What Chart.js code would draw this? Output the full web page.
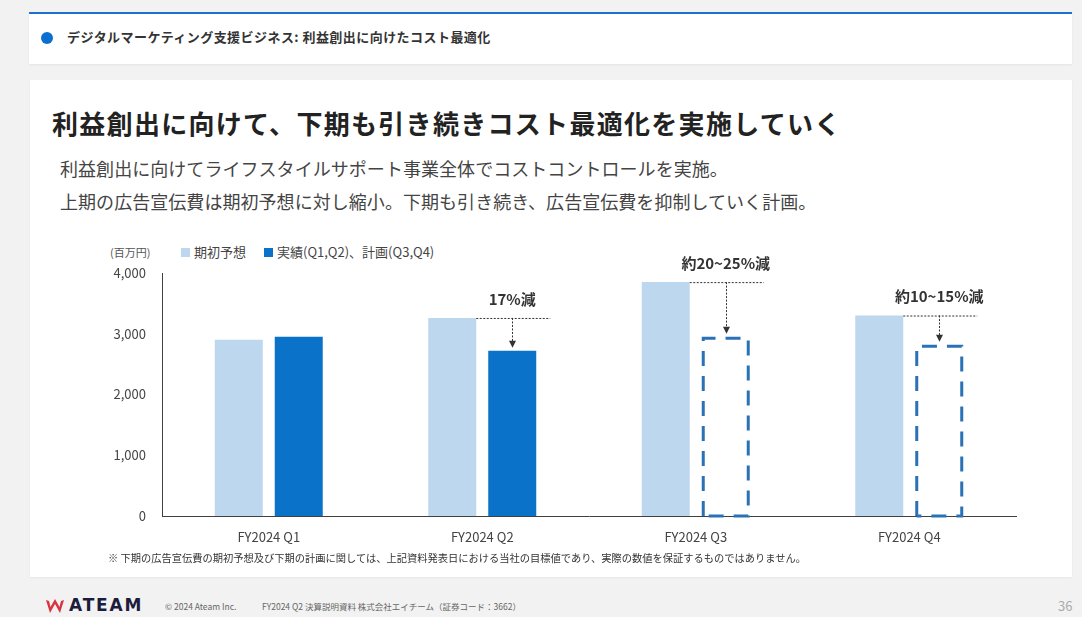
<!DOCTYPE html>
<html lang="ja">
<head>
<meta charset="utf-8">
<script src="https://cdn.jsdelivr.net/npm/chart.js@4.4.1/dist/chart.umd.min.js"></script>
<style>
  html,body{margin:0;padding:0;}
  body{width:1082px;height:617px;background:#f2f2f2;position:relative;overflow:hidden;
       font-family:"Noto Sans CJK JP","Noto Sans",sans-serif;color:#333;}
  .hdr{position:absolute;left:29px;top:12px;width:1043px;height:50px;background:#fff;
       border-top:2px solid #1a73c8;box-shadow:0 1px 2px rgba(0,0,0,0.06);}
  .hdr .dot{position:absolute;left:12px;top:18px;width:12px;height:12px;border-radius:50%;background:#0a6fd0;}
  .hdr .t{position:absolute;left:38px;top:13px;font-size:13px;font-weight:700;color:#333;letter-spacing:0.45px;}
  .card{position:absolute;left:30px;top:80px;width:1042px;height:497px;background:#fff;box-shadow:0 1px 2px rgba(0,0,0,0.05);}
  .title{position:absolute;left:52px;top:104px;font-size:26px;font-weight:700;color:#222;letter-spacing:1.3px;white-space:nowrap;}
  .sub{position:absolute;left:60px;font-size:18px;color:#444;white-space:nowrap;letter-spacing:0.05px;}
  .unit{position:absolute;left:110px;top:244px;font-size:11px;color:#555;}
  .leg{position:absolute;top:242px;font-size:13px;color:#444;white-space:nowrap;}
  .leg i{display:inline-block;width:9px;height:9px;margin-right:4px;vertical-align:0px;}
  canvas{position:absolute;left:90px;top:240px;}
  .note{position:absolute;left:108px;top:550px;font-size:10.25px;color:#333;white-space:nowrap;}
  .foot{position:absolute;top:600px;font-size:8.5px;color:#666;white-space:nowrap;}
  .logo{position:absolute;left:45px;top:596px;height:20px;}
  .logo span{position:absolute;left:24px;top:-1px;font-size:17px;font-weight:800;color:#1c1c3c;letter-spacing:1.8px;font-family:"DejaVu Sans","Noto Sans",sans-serif;}
  .pg{position:absolute;left:1058px;top:596px;font-size:13px;color:#aaa;}
</style>
</head>
<body>
<div class="hdr"><div class="dot"></div><div class="t">デジタルマーケティング支援ビジネス: 利益創出に向けたコスト最適化</div></div>
<div class="card"></div>
<div class="title">利益創出に向けて、下期も引き続きコスト最適化を実施していく</div>
<div class="sub" style="top:155px">利益創出に向けてライフスタイルサポート事業全体でコストコントロールを実施。</div>
<div class="sub" style="top:188px">上期の広告宣伝費は期初予想に対し縮小。下期も引き続き、広告宣伝費を抑制していく計画。</div>
<div class="unit">(百万円)</div>
<div class="leg" style="left:181px"><i style="background:#bdd7ee"></i>期初予想</div>
<div class="leg" style="left:264px"><i style="background:#0a72c9"></i>実績(Q1,Q2)、計画(Q3,Q4)</div>
<canvas id="c" width="950" height="320"></canvas>
<div class="note">※ 下期の広告宣伝費の期初予想及び下期の計画に関しては、上記資料発表日における当社の目標値であり、実際の数値を保証するものではありません。</div>
<div class="logo">
  <svg width="20" height="18" viewBox="0 0 20 18"><path d="M1 3 L5 16 L10 7 L15 16 L19 3 L16 4 L14.5 10 L10 2 L5.5 10 L4 4 Z" fill="#d9333f"/></svg>
  <span>ATEAM</span>
</div>
<div class="foot" style="left:165px">© 2024 Ateam Inc.</div>
<div class="foot" style="left:262px">FY2024 Q2 決算説明資料 株式会社エイチーム（証券コード：3662）</div>
<div class="pg">36</div>

<script>
const categories = ['FY2024 Q1', 'FY2024 Q2', 'FY2024 Q3', 'FY2024 Q4'];
const initialForecast = [2900, 3260, 3850, 3300];
const actualOrPlan = [2950, 2720, 2950, 2820];
const isPlan = [false, false, true, true];
const reductionLabels = [null, '17%減', '約20~25%減', '約10~15%減'];
const yTicks = [0, 1000, 2000, 3000, 4000];
const seriesNames = ['期初予想', '実績(Q1,Q2)、計画(Q3,Q4)'];

const LIGHT = '#bdd7ee', DARK = '#0a72c9', DASH = '#2a72b5';
const FONT = '"Noto Sans CJK JP","Noto Sans",sans-serif';

const overlay = {
  id: 'overlay',
  afterDatasetsDraw(chart) {
    const ctx = chart.ctx;
    const m0 = chart.getDatasetMeta(0), m1 = chart.getDatasetMeta(1);
    ctx.save();
    ctx.strokeStyle = DASH; ctx.lineWidth = 3; ctx.setLineDash([15, 10]);
    m1.data.forEach((b, i) => {
      if (!isPlan[i]) return;
      const l = b.x - b.width / 2 + 1.5, r = b.x + b.width / 2 - 1.5;
      ctx.beginPath();
      ctx.moveTo(l, b.base); ctx.lineTo(l, b.y + 1.5); ctx.lineTo(r, b.y + 1.5); ctx.lineTo(r, b.base); ctx.lineTo(l, b.base);
      ctx.stroke();
    });
    ctx.restore();
    m1.data.forEach((b, i) => {
      const lab = reductionLabels[i];
      if (!lab) return;
      const a = m0.data[i];
      const yTop = a.y;
      const ax = Math.round(b.x) + 0.5;
      ctx.save();
      ctx.strokeStyle = '#333'; ctx.lineWidth = 1; ctx.setLineDash([2, 1.5]);
      ctx.beginPath();
      ctx.moveTo(a.x + a.width / 2, yTop + 0.5);
      ctx.lineTo(b.x + b.width / 2 + 14, yTop + 0.5);
      ctx.stroke();
      const tip = b.y - 3;
      ctx.beginPath();
      ctx.moveTo(ax, yTop);
      ctx.lineTo(ax, tip - 6);
      ctx.stroke();
      ctx.setLineDash([]);
      ctx.fillStyle = '#333';
      ctx.beginPath();
      ctx.moveTo(ax - 3.5, tip - 7);
      ctx.lineTo(ax + 3.5, tip - 7);
      ctx.lineTo(ax, tip);
      ctx.closePath(); ctx.fill();
      ctx.font = 'bold 15px ' + FONT;
      ctx.textAlign = 'center'; ctx.textBaseline = 'middle';
      ctx.fillText(lab, b.x, yTop - 19);
      ctx.restore();
    });
  }
};

new Chart(document.getElementById('c'), {
  type: 'bar',
  data: {
    labels: categories,
    datasets: [
      { label: seriesNames[0], data: initialForecast, backgroundColor: LIGHT },
      { label: seriesNames[1], data: actualOrPlan,
        backgroundColor: isPlan.map(p => p ? 'rgba(0,0,0,0)' : DARK) }
    ]
  },
  options: {
    responsive: false, devicePixelRatio: 1, animation: false,
    layout: { padding: { top: 33, right: 24, bottom: 0, left: 0 } },
    datasets: { bar: { categoryPercentage: 0.562, barPercentage: 0.8 } },
    plugins: { legend: { display: false }, tooltip: { enabled: false } },
    scales: {
      x: {
        grid: { display: false, drawTicks: false },
        border: { display: true, color: '#404040', width: 1 },
        ticks: { color: '#444', font: { family: FONT, size: 13 }, padding: 13 },
        afterFit(s) { s.height = 44; }
      },
      y: {
        min: 0, max: 4000,
        afterBuildTicks(s) { s.ticks = yTicks.map(v => ({ value: v })); },
        grid: { display: false, drawTicks: false },
        border: { display: true, color: '#404040', width: 1 },
        ticks: { color: '#444', font: { family: FONT, size: 13 }, padding: 16,
                 callback: v => v.toLocaleString('en-US') },
        afterFit(s) { s.width = 72; }
      }
    }
  },
  plugins: [overlay]
});
</script>
</body>
</html>
